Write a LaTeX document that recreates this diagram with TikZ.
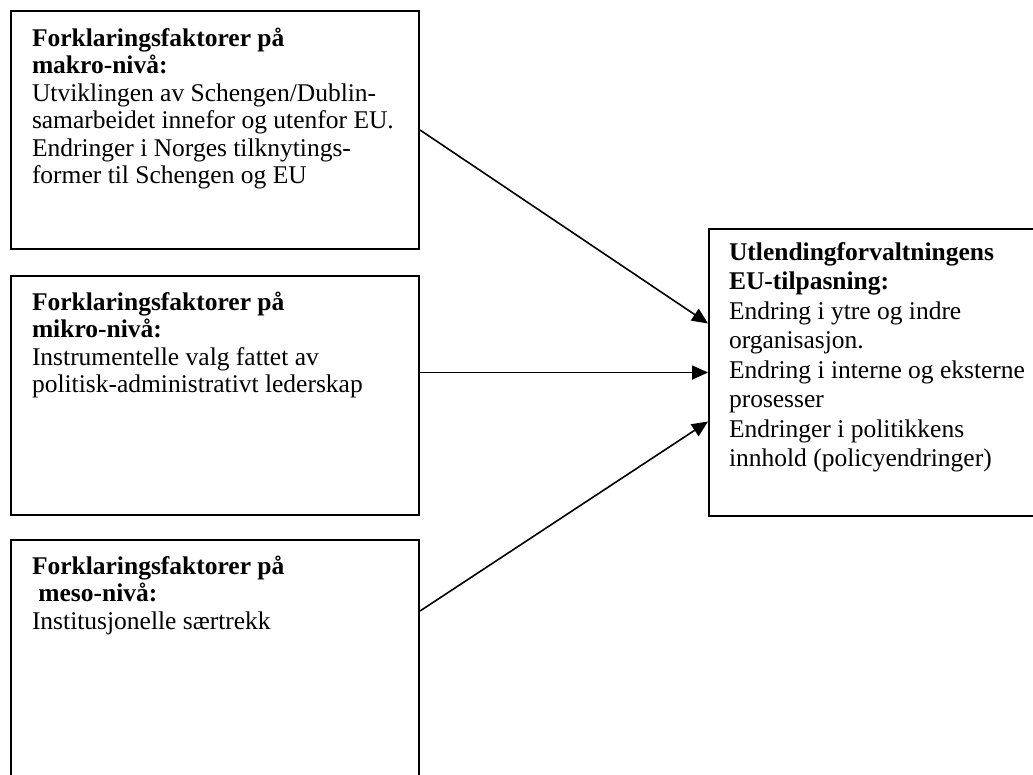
\documentclass[tikz,border=0pt]{standalone}
\usepackage{fontspec}
\setmainfont{Liberation Serif}
\usetikzlibrary{positioning, calc, arrows.meta}

\begin{document}
\begin{tikzpicture}[x=1pt, y=-1pt,
	factor/.style={draw, line width=2pt, anchor=north west, inner sep=0pt, inner xsep=21pt},
	arr/.style={-{Triangle[length=16pt,width=14pt]}, line width=1.6pt}]
	\useasboundingbox (0,0) rectangle (1033,774);
	\clip (0,0) rectangle (1033,774);
	\fontsize{25.5pt}{27.5pt}\selectfont
	\node (makro) [factor] at (10,10) {\parbox[t][238pt][t]{366pt}{\raggedright\rule{0pt}{35pt}\textbf{Forklaringsfaktorer på}\\\textbf{makro-nivå:}\\Utviklingen av Schengen/Dublin-\\samarbeidet innefor og utenfor EU.\\Endringer i Norges tilknytings-\\former til Schengen og EU}};
	\node (mikro) [factor] at (10,275) {\parbox[t][239pt][t]{366pt}{\raggedright\rule{0pt}{34pt}\textbf{Forklaringsfaktorer på}\\\textbf{mikro-nivå:}\\Instrumentelle valg fattet av\\politisk-administrativt lederskap}};
	\node (meso) [factor] at (10,539) {\parbox[t][260pt][t]{366pt}{\raggedright\rule{0pt}{34pt}\textbf{Forklaringsfaktorer på}\\\textbf{\ meso-nivå:}\\Institusjonelle særtrekk}};
	\node (tilpasning) [factor, inner xsep=20pt] at (708,228) {\parbox[t][287pt][t]{300pt}{\fontsize{25.5pt}{29.5pt}\selectfont\raggedright\rule{0pt}{31pt}\textbf{Utlendingforvaltningens}\\\textbf{EU-tilpasning:}\\Endring i ytre og indre\\organisasjon.\\Endring i interne og eksterne\\prosesser\\Endringer i politikkens\\innhold (policyendringer)}};

	\draw [arr] (makro.east) -- ($(tilpasning.west)+(0,-49)$);
	\draw [arr] (mikro.east |- tilpasning.west) -- (tilpasning.west);
	\draw [arr] ($(meso.north east)+(0,72)$) -- ($(tilpasning.west)+(0,49)$);
\end{tikzpicture}
\end{document}
